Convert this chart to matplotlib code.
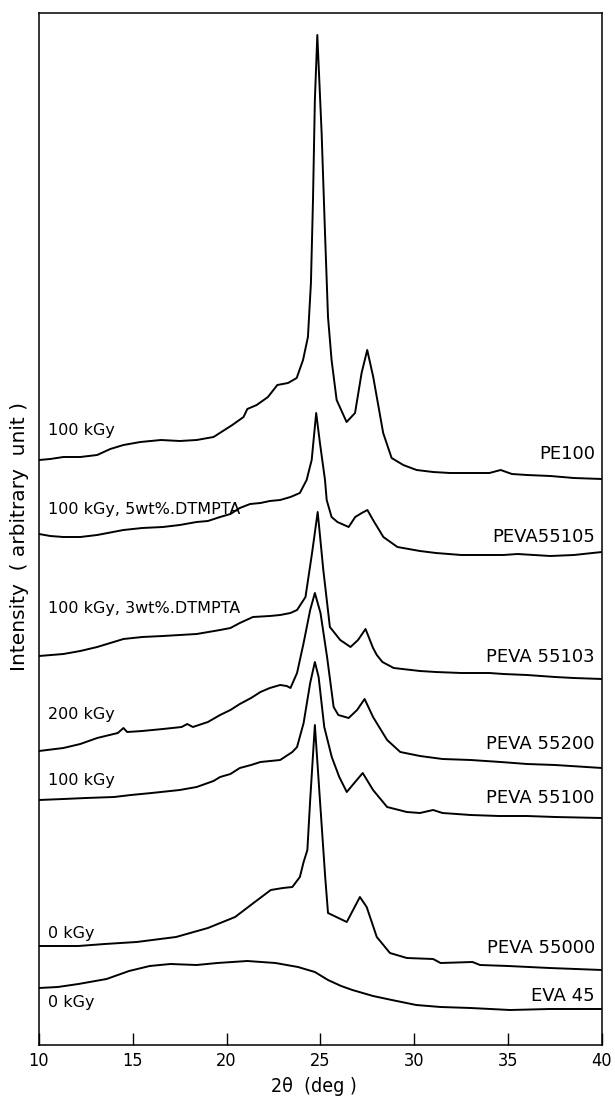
import matplotlib
matplotlib.use("Agg")

import matplotlib.pyplot as plt
from matplotlib import font_manager

# ============================================================
# Data
# 2theta in deg, intensity in arbitrary units (curves stacked with offsets)
# ============================================================

pe100_tt = [10.0, 10.6, 11.3, 12.2, 13.1, 13.8, 14.5, 15.4, 16.5, 17.5, 18.4, 19.3,
            20.3, 20.9, 21.1, 21.6, 22.2, 22.7, 23.27, 23.73, 24.07, 24.33, 24.49,
            24.60, 24.70, 24.83, 25.06, 25.24, 25.40, 25.59, 25.86, 26.39, 26.84,
            27.19, 27.49, 27.81, 28.34, 28.79, 29.41, 30.12, 31.0, 31.9, 33.0, 34.0,
            34.6, 35.2, 36.0, 37.25, 38.5, 40.0]
pe100_int = [585, 586, 588, 588, 590, 596, 600, 603, 605, 604, 605, 608,
             620, 628, 636, 640, 648, 660, 662, 667, 685, 708, 762,
             845, 945, 1010, 912, 812, 728, 685, 645, 623, 632,
             672, 695, 668, 612, 587, 580, 575, 573, 572, 572, 572,
             575, 571, 570, 569, 567, 566]

peva55105_tt = [10.0, 10.6, 11.3, 12.2, 13.1, 14.5, 15.5, 16.6, 17.5, 18.4, 19.0,
                19.65, 20.2, 20.7, 21.25, 21.8, 22.3, 22.85, 23.4, 23.9, 24.26,
                24.53, 24.77, 24.97, 25.24, 25.33, 25.59, 25.9, 26.5, 26.85, 27.2,
                27.5, 27.8, 28.35, 29.1, 30.3, 31.15, 32.5, 34.0, 34.75, 35.5,
                37.25, 38.5, 40.0]
peva55105_int = [511, 509, 508, 508, 510, 515, 517, 518, 520, 523, 524,
                 528, 531, 537, 541, 542, 544, 545, 548, 552, 565,
                 585, 632, 602, 565, 545, 528, 523, 518, 528, 532,
                 535, 525, 508, 498, 494, 492, 490, 490, 490, 491,
                 489, 490, 493]

peva55103_tt = [10.0, 11.3, 12.2, 13.1, 14.5, 15.5, 16.6, 17.5, 18.4, 19.65, 20.2,
                20.7, 21.4, 22.3, 22.85, 23.4, 23.75, 24.2, 24.55, 24.85, 25.15,
                25.5, 26.05, 26.6, 27.0, 27.4, 27.8, 28.0, 28.3, 28.9, 30.3, 31.15,
                32.5, 34.0, 34.75, 36.0, 37.5, 38.5, 40.0]
peva55103_int = [389, 391, 394, 398, 406, 408, 409, 410, 411, 415, 417,
                 422, 428, 429, 430, 432, 435, 448, 492, 533, 475,
                 418, 405, 398, 405, 416, 397, 390, 383, 377, 374, 373,
                 372, 372, 371, 370, 368, 367, 366]

peva55200_tt = [10.0, 11.3, 12.2, 13.1, 14.2, 14.5, 14.7, 15.5, 16.6, 17.6, 17.9,
                18.2, 19.0, 19.65, 20.2, 20.7, 21.3, 21.8, 22.3, 22.85, 23.2, 23.4,
                23.75, 24.1, 24.45, 24.7, 25.0, 25.35, 25.7, 25.95, 26.5, 26.95,
                27.35, 27.8, 28.55, 29.25, 30.3, 31.5, 33.0, 34.6, 36.0, 37.5, 40.0]
peva55200_int = [294, 297, 301, 307, 312, 317, 313, 314, 316, 318, 321,
                 318, 323, 330, 335, 341, 347, 353, 357, 360, 359, 357,
                 372, 402, 435, 452, 432, 388, 338, 330, 327, 335,
                 346, 328, 305, 293, 289, 286, 285, 283, 281, 280, 277]

peva55100_tt = [10.0, 11.3, 12.5, 14.0, 14.9, 16.0, 17.5, 18.4, 19.3, 19.65, 20.2,
                20.7, 21.3, 21.8, 22.85, 23.5, 23.75, 24.1, 24.45, 24.7, 24.9, 25.2,
                25.6, 26.0, 26.4, 26.8, 27.25, 27.8, 28.55, 29.6, 30.3, 31.0, 31.5,
                33.0, 34.5, 36.0, 37.5, 40.0]
peva55100_int = [245, 246, 247, 248, 250, 252, 255, 258, 264, 268, 271,
                 277, 280, 283, 285, 293, 298, 322, 362, 383, 368, 318,
                 288, 268, 253, 262, 272, 255, 238, 233, 232, 235, 232,
                 230, 229, 229, 228, 227]

peva55000_tt = [10.0, 12.1, 13.5, 15.2, 17.3, 19.0, 20.45, 21.5, 22.35, 23.0, 23.5,
                23.9, 24.1, 24.3, 24.45, 24.7, 24.97, 25.25, 25.4, 26.4, 27.1,
                27.46, 28.0, 28.7, 29.6, 31.0, 31.4, 33.1, 33.5, 35.0, 37.2, 40.0]
peva55000_int = [99, 99, 101, 103, 108, 117, 128, 143, 155, 157, 158,
                 168, 183, 195, 245, 320, 245, 168, 132, 123, 148,
                 138, 108, 92, 87, 86, 82, 83, 80, 79, 77, 75]

eva45_tt = [10.0, 11.0, 12.1, 13.6, 14.8, 15.9, 17.0, 18.4, 19.5, 21.1, 22.6, 23.8,
            24.7, 25.4, 26.1, 26.7, 27.8, 28.8, 30.1, 31.4, 33.0, 35.1, 37.2, 40.0]
eva45_int = [57, 58, 61, 66, 74, 79, 81, 80, 82, 84, 82, 78,
             73, 65, 59, 55, 49, 45, 40, 38, 37, 35, 36, 36]

dose_labels = ["100 kGy", "100 kGy, 5wt%.DTMPTA", "100 kGy, 3wt%.DTMPTA",
               "200 kGy", "100 kGy", "0 kGy", "0 kGy"]
sample_labels = ["PE100", "PEVA55105", "PEVA 55103", "PEVA 55200",
                 "PEVA 55100", "PEVA 55000", "EVA 45"]

x_ticks = [10, 15, 20, 25, 30, 35, 40]

# label placement (baseline, in intensity units)
dose_label_y = [610, 531, 432, 326, 260, 107, 38]
sample_label_y = [586, 503, 383, 296, 242, 92, 44]


def narrow_font() -> dict:
    # The original axis numbers are in a narrow face; use one if installed.
    names = {f.name for f in font_manager.fontManager.ttflist}
    if "Liberation Sans Narrow" in names:
        return {"family": "Liberation Sans Narrow", "fontsize": 13.5}
    condensed = [f for f in font_manager.fontManager.ttflist
                 if f.name == "DejaVu Sans" and f.stretch == "condensed"]
    if condensed:
        return {"family": "DejaVu Sans", "fontstretch": "condensed", "fontsize": 13}
    return {"family": "DejaVu Sans", "fontsize": 13}


def main() -> None:
    curves = [
        (pe100_tt, pe100_int),
        (peva55105_tt, peva55105_int),
        (peva55103_tt, peva55103_int),
        (peva55200_tt, peva55200_int),
        (peva55100_tt, peva55100_int),
        (peva55000_tt, peva55000_int),
        (eva45_tt, eva45_int),
    ]

    fig = plt.figure(figsize=(6.15, 10.97), dpi=100)
    ax = fig.add_axes([39 / 615, 52 / 1097, 563 / 615, 1032 / 1097])

    for tt, inten in curves:
        ax.plot(tt, inten, color="black", lw=1.4, solid_joinstyle="round")

    for label, y in zip(dose_labels, dose_label_y):
        ax.text(10.5, y, label, fontsize=11.5, family="DejaVu Sans",
                ha="left", va="baseline")

    for label, y in zip(sample_labels, sample_label_y):
        ax.text(39.62, y, label, fontsize=13, family="DejaVu Sans",
                ha="right", va="baseline")

    ax.set_xlim(10, 40)
    ax.set_ylim(0, 1032)

    tick_font = narrow_font()

    ax.set_xticks(x_ticks)
    ax.set_xticklabels([str(t) for t in x_ticks], **tick_font)
    ax.set_yticks([])
    ax.tick_params(axis="x", direction="in", length=8.5, width=1.0, pad=5,
                   top=False)

    for spine in ax.spines.values():
        spine.set_linewidth(1.1)

    label_font = dict(tick_font)
    label_font["fontsize"] = tick_font["fontsize"] + 1
    ax.set_xlabel("2θ  (deg )", **label_font)
    ax.xaxis.set_label_coords(0.488, -0.031)

    ax.set_ylabel("Intensity  ( arbitrary  unit )", family="DejaVu Sans", fontsize=14.5)
    ax.yaxis.set_label_coords(-0.018, 0.493)

    fig.savefig("out.png", dpi=100)
    plt.close(fig)


if __name__ == "__main__":
    main()
